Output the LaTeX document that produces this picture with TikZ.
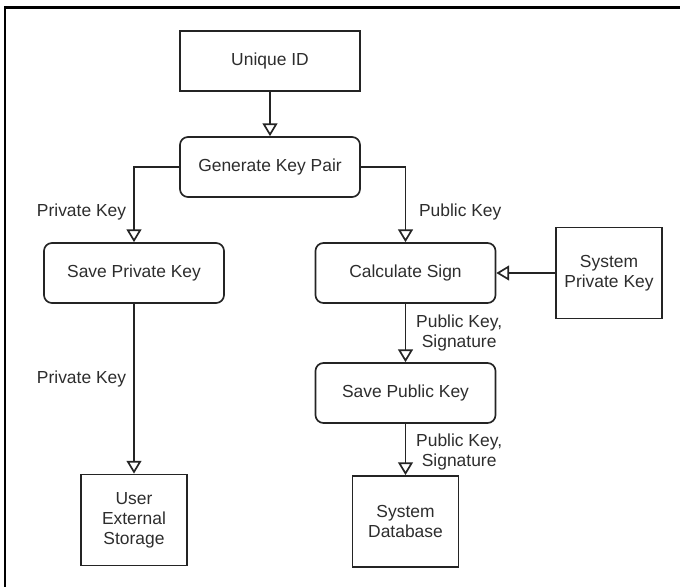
\documentclass[tikz,border=0pt]{standalone}
\usepackage{fontspec}
\setmainfont{Liberation Sans}
\usepackage{tikz}
\usetikzlibrary{positioning,arrows.meta}
\definecolor{LineGray}{RGB}{36,36,36}
\definecolor{TextGray}{RGB}{45,45,45}
\tikzset{
    stepbox/.style={rectangle, rounded corners=0.2cm, draw=LineGray, line width=1.2pt, minimum width=4.5cm, minimum height=1.5cm, text=TextGray, font=\fontsize{12.4}{14.2}\selectfont},
    plainbox/.style={rectangle, draw=LineGray, line width=1.2pt, minimum width=4.5cm, minimum height=1.5cm, text=TextGray, font=\fontsize{12.4}{14.2}\selectfont},
    storebox/.style={plainbox, minimum width=2.65cm, minimum height=2.28cm, align=center},
    flow/.style={draw=LineGray, line width=1.2pt, -{Triangle[open, width=10.5pt, length=9pt]}},
    keylabel/.style={text=TextGray, font=\fontsize{12.4}{14.2}\selectfont, align=center, inner sep=2pt}
}
\begin{document}
\begin{tikzpicture}[x=0.025cm, y=-0.025cm]
    \useasboundingbox (0,0) rectangle (680,587);
    % frame
    \draw[black, line width=2pt] (5,587) -- (5,7.5) -- (680,7.5);

    \node[plainbox] (uid) at (270,61) {Unique ID};
    \node[stepbox] (genkey) at (270,167) {Generate Key Pair};
    \node[stepbox] (saveprv) at (134,273) {Save Private Key};
    \node[stepbox] (calcsign) at (405.5,273) {Calculate Sign};
    \node[storebox] (syskey) at (609,273) {System\\Private Key};
    \node[stepbox] (savepub) at (405.5,393) {Save Public Key};
    \node[storebox] (userstore) at (134,520) {User\\External\\Storage};
    \node[storebox] (sysdb) at (405.5,521.5) {System\\Database};

    \draw[flow] (uid) -- (genkey);
    \draw[flow] (genkey.west) -| node[keylabel, pos=0.8, left=3pt] (prvlbl) {Private Key} (saveprv.north);
    \draw[flow] (genkey.east) -| node[keylabel, pos=0.8, right=7pt] (publbl) {Public Key} (calcsign.north);
    \draw[flow] (syskey) -- (calcsign);
    \draw[flow] (calcsign) -- node[keylabel, right=5pt] (signlbl) {Public Key,\\Signature} (savepub);
    \draw[flow] (savepub) -- node[keylabel, pos=0.55, right=5pt] (dblbl) {Public Key,\\Signature} (sysdb);
    \draw[flow] (saveprv) -- node[keylabel, pos=0.44, left=3pt] (storelbl) {Private Key} (userstore);
\end{tikzpicture}
\end{document}
